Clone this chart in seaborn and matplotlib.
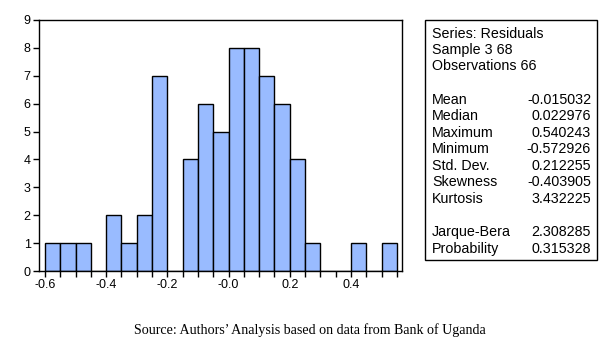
import numpy as np
import pandas as pd
import matplotlib
matplotlib.use("Agg")
import matplotlib.pyplot as plt
from matplotlib.patches import Rectangle
from matplotlib.ticker import MultipleLocator, FixedLocator, FixedFormatter
import seaborn as sns

# ---- data ----
bin_start = -0.6
bin_width = 0.05
counts = [1, 1, 1, 0, 2, 1, 2, 7, 0, 4, 6, 5, 8, 8, 7, 6, 4, 1, 0, 0, 1, 0, 1]
x_tick_values = [-0.6, -0.4, -0.2, 0.0, 0.2, 0.4]
x_tick_labels = ["-0.6", "-0.4", "-0.2", "-0.0", "0.2", "0.4"]
y_tick_values = [0, 1, 2, 3, 4, 5, 6, 7, 8, 9]

header_lines = ["Series: Residuals", "Sample 3 68", "Observations 66"]
stat_names = ["Mean", "Median", "Maximum", "Minimum", "Std. Dev.", "Skewness", "Kurtosis"]
stat_values = ["-0.015032", "0.022976", "0.540243", "-0.572926", "0.212255", "-0.403905", "3.432225"]
test_names = ["Jarque-Bera", "Probability"]
test_values = ["2.308285", "0.315328"]
source_text = "Source: Authors\u2019 Analysis based on data from Bank of Uganda"

edges = bin_start + bin_width * np.arange(len(counts) + 1)
centers = (edges[:-1] + edges[1:]) / 2
df = pd.DataFrame({"residual": centers, "count": counts})

sns.set_theme(style="white")
plt.rcParams["font.family"] = ["Liberation Sans", "DejaVu Sans"]

W, H = 610, 349
fig = plt.figure(figsize=(W / 100, H / 100), dpi=100)
ax = fig.add_axes([39 / W, 1 - 271 / H, (402 - 39) / W, (271 - 20) / H])

sns.histplot(data=df, x="residual", weights="count", bins=len(counts),
             binrange=(float(edges[0]), float(edges[-1])), ax=ax,
             color="#99bbff", alpha=1.0, edgecolor="black", linewidth=1.0)

ax.set_xlim(-0.6196, 0.5667)
ax.set_ylim(0, 9)
ax.set_xlabel("")
ax.set_ylabel("")
ax.xaxis.set_major_locator(FixedLocator(x_tick_values))
ax.xaxis.set_major_formatter(FixedFormatter(x_tick_labels))
ax.xaxis.set_minor_locator(MultipleLocator(bin_width))
ax.set_yticks(y_tick_values)
ax.tick_params(axis="both", which="both", direction="out", color="black",
               labelsize=9, labelcolor="black", width=1)
ax.tick_params(axis="x", which="major", length=4, pad=2)
ax.tick_params(axis="x", which="minor", length=4)
ax.tick_params(axis="y", which="major", length=4, pad=2)
ax.tick_params(bottom=True, left=True, which="both")
ax.tick_params(axis="y", which="minor", left=False)
for s in ax.spines.values():
    s.set_color("black")
    s.set_linewidth(1.0)
    s.set_visible(True)
ax.grid(False)

# ---- statistics box ----
bx0, bx1, by0, by1 = 425, 597, 20, 260
fig.patches.append(Rectangle((bx0 / W, 1 - by1 / H), (bx1 - bx0) / W, (by1 - by0) / H,
                             transform=fig.transFigure, fill=False,
                             edgecolor="black", linewidth=1.0))
fs = 10.3
lx, rx = 432 / W, 591 / W
y = 33.5
for line in header_lines:
    fig.text(lx, 1 - y / H, line, fontsize=fs, va="center", ha="left", color="black")
    y += 16.1
y = 99.5
for name, val in zip(stat_names, stat_values):
    fig.text(lx, 1 - y / H, name, fontsize=fs, va="center", ha="left", color="black")
    fig.text(rx, 1 - y / H, val, fontsize=fs, va="center", ha="right", color="black")
    y += 16.6
y = 232.3
for name, val in zip(test_names, test_values):
    fig.text(lx, 1 - y / H, name, fontsize=fs, va="center", ha="left", color="black")
    fig.text(rx, 1 - y / H, val, fontsize=fs, va="center", ha="right", color="black")
    y += 16.9

fig.text(309.5 / W, 1 - 330.5 / H, source_text, fontsize=10.1, ha="center", va="center",
         family=["Liberation Serif", "DejaVu Serif"], color="black")

fig.savefig("out.png", dpi=100, facecolor="white")
